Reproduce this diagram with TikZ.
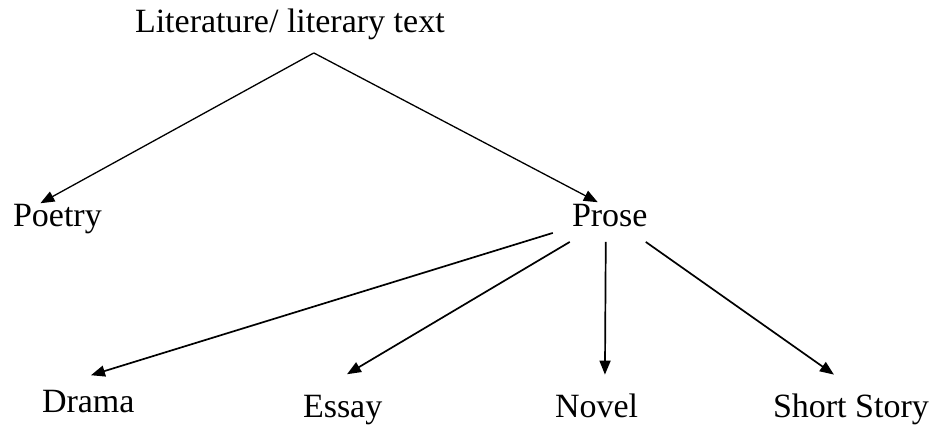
\documentclass[tikz,border=0pt]{standalone}
\usepackage{fontspec}
\setmainfont{Liberation Serif}
\usetikzlibrary{calc,arrows.meta}
\begin{document}
\begin{tikzpicture}[x=1pt,y=1pt,
  lbl/.style={inner sep=0pt,outer sep=0pt,anchor=base west,font=\fontsize{34}{40}\selectfont},
  conn/.style={line width=1.3pt,-{Triangle[length=14pt,width=11pt]}},
  connb/.style={line width=1.7pt,-{Triangle[length=14pt,width=11pt]}}]
\useasboundingbox (0,0) rectangle (936,426);
\node[lbl] (title) at (135,393) {Literature/ literary text};
\node[lbl] (poetry) at (13,199) {Poetry};
\node[lbl] (prose) at (572,200) {Prose};
\node[lbl] (drama) at (42,14) {Drama};
\node[lbl] (essay) at (303,9) {Essay};
\node[lbl] (novel) at (555,9) {Novel};
\node[lbl] (short) at (773,9) {Short Story};
\draw[conn] ($(title.south)+(24,-12.6)$) -- ($(poetry.north)+(-17,1.5)$);
\draw[conn] ($(title.south)+(24,-12.6)$) -- ($(prose.north)+(-12,1.5)$);
\draw[connb] ($(prose.south)+(-57,-6.6)$) -- ($(drama.north)+(2.7,14.5)$);
\draw[connb] ($(prose.south)+(-40,-15.6)$) -- ($(essay.north)+(4.3,20.5)$);
\draw[connb] ($(prose.south)+(-4,-15.6)$) -- ($(novel.north)+(8.4,18.8)$);
\draw[connb] ($(prose.south)+(36,-15.6)$) -- ($(short.north)+(-17,18.8)$);
\end{tikzpicture}
\end{document}
